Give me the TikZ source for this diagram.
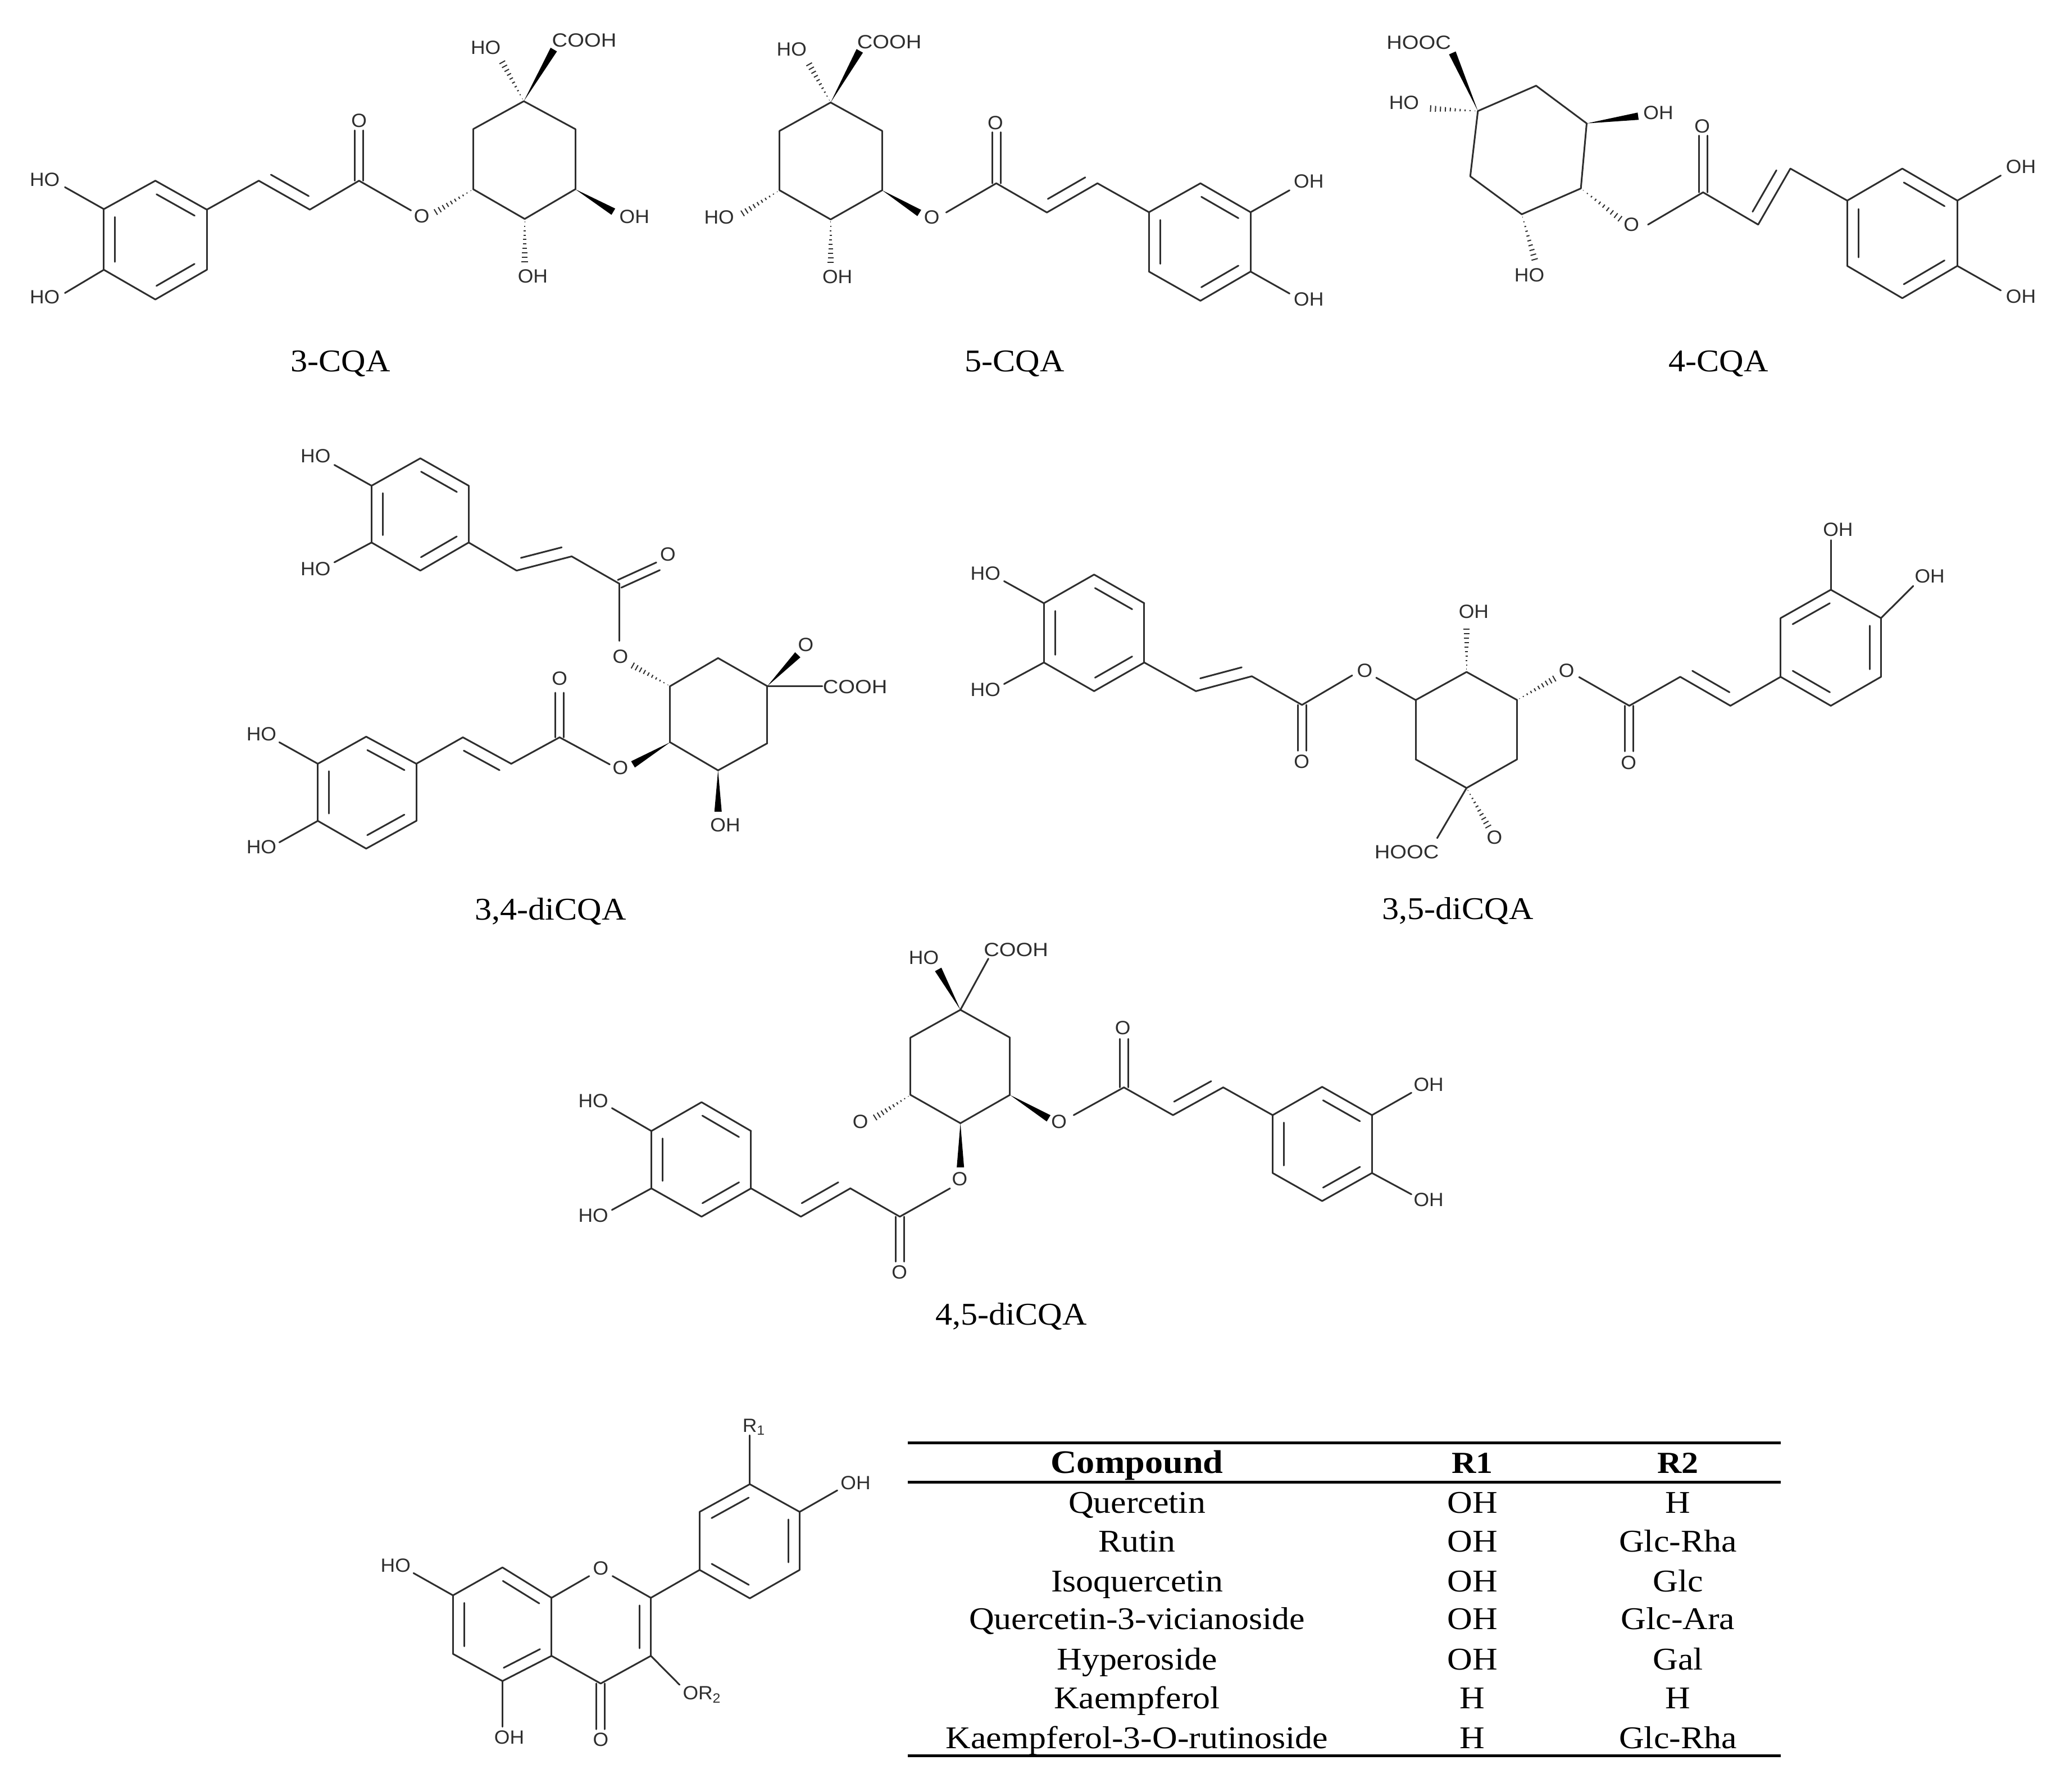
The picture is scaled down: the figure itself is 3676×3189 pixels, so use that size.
\documentclass[tikz,border=0pt]{standalone}
\usepackage{fontspec}
\usetikzlibrary{calc}
\setmainfont{Liberation Serif}
\newfontfamily\atomf[FakeStretch=1.04]{Liberation Sans}
\newfontfamily\acidf[FakeStretch=1.12]{Liberation Sans}
\newfontfamily\capf[FakeStretch=1.07]{Liberation Serif}
\newfontfamily\tabf[FakeStretch=1.1]{Liberation Serif}
\definecolor{ink}{gray}{0.18}
\tikzset{
  bond/.style={draw=ink,line width=0.03cm,line cap=round,line join=round},
  hashl/.style={draw=ink,line width=0.02cm},
  solidw/.style={fill=black,draw=none},
  atomlbl/.style={font=\atomf\fontsize{9.7}{10}\selectfont,inner sep=0pt,text=ink},
  captn/.style={font=\capf\fontsize{16}{18}\selectfont,inner sep=0pt,anchor=base,text=black},
  cell/.style={font=\tabf\fontsize{16}{18}\selectfont,inner sep=0pt,anchor=base,text=black},
  head/.style={font=\tabf\bfseries\fontsize{15.5}{18}\selectfont,inner sep=0pt,anchor=base,text=black},
  headw/.style={font=\tabf\bfseries\fontsize{16.6}{18}\selectfont,inner sep=0pt,anchor=base,text=black},
  rulel/.style={draw=black,line width=0.05cm}
}
\newcommand\dg{0.2cm}
\newcommand\dc{0.075cm}
\newcommand\ww{0.065cm}
\newcommand\hw{0.06cm}
\newcommand\At[1]{\foreach \nm/\xx/\yy in {#1}{\coordinate (\nm) at (\xx,\yy);}}
\newcommand\Lb[1]{\foreach \nm/\xx/\yy/\tx in {#1}{\node[atomlbl] (\nm) at (\xx,\yy) {\tx};}}
\newcommand\SB[1]{\foreach \pa/\pb in {#1}{\draw[bond] (\pa)--(\pb);}}
\newcommand\DR[2]{\draw[bond] (#1)--(#2); \draw[bond] ($(#1)!.13!(#2)!\dg!-90:(#2)$) -- ($(#1)!.87!(#2)!\dg!-90:(#2)$);}
\newcommand\DL[2]{\draw[bond] (#1)--(#2); \draw[bond] ($(#1)!.13!(#2)!\dg!90:(#2)$) -- ($(#1)!.87!(#2)!\dg!90:(#2)$);}
\newcommand\DC[2]{\draw[bond] ($(#1)!\dc!90:(#2)$) -- ($(#2)!\dc!-90:(#1)$); \draw[bond] ($(#1)!\dc!-90:(#2)$) -- ($(#2)!\dc!90:(#1)$);}
\newcommand\Wg[2]{\fill[solidw] (#1) -- ($(#2)!\ww!90:(#1)$) -- ($(#2)!\ww!-90:(#1)$) -- cycle;}
\newcommand\Hs[2]{\foreach \hf in {0.06,0.16,...,1.0}{\draw[hashl] ($(#1)!\hf!(#2)!\hf*\hw!90:(#2)$) -- ($(#1)!\hf!(#2)!\hf*\hw!-90:(#2)$);}}
\begin{document}
\begin{tikzpicture}[x=0.01cm,y=-0.01cm]
\useasboundingbox[fill=white] (0,0) rectangle (3676,3189);

% ---------- 3-CQA
\begin{scope}[shift={(0,0)},x=0.0079719cm,y=-0.0045914cm,name prefix=ma-]
\At{r1/232/810,r2/347/700,r3/462/812,r4/462/1045,r5/347/1160,r6/232/1045,
 c1/578/700,c2/692/812,c3/802/700,eo/802/505,ea/918/815,eb/970/825,
 q1/1170/392,q2/1285/500,q3/1285/733,q4/1172/848,q5/1057/733,q6/1057/500,
 e1/1370/820,e2/1172/1022,e3/1120/235,e4/1237/192,e5/145/725,e6/145/1135}
\Lb{l1/100/695/HO,l2/100/1150/HO,l3/802/467/O,l4/942/838/O,l5/1417/840/OH,l6/1190/1070/OH,l7/1085/185/HO,l8/1305/157/{\acidf COOH}}
\SB{r1/r2,r3/r4,r5/r6,r3/c1,c2/c3,c3/ea,q1/q2,q2/q3,q3/q4,q4/q5,q5/q6,q6/q1,r1/e5,r6/e6}
\DR{r2}{r3}\DR{r6}{r1}\DR{r4}{r5}\DL{c1}{c2}\DC{c3}{eo}
\Hs{q5}{eb}\Wg{q3}{e1}\Hs{q4}{e2}\Hs{q1}{e3}\Wg{q1}{e4}
\end{scope}
\node[captn] (capa) at (606,661) {3-CQA};

% ---------- 5-CQA
\begin{scope}[shift={(1230,0)},x=0.0079719cm,y=-0.0045914cm,name prefix=mb-]
\At{q1/312/397,q2/427/507,q3/427/737,q4/312/850,q5/198/737,q6/198/507,
 e1/510/825,ea/570/823,c3/682/710,eo/682/512,c2/795/823,c1/908/710,
 r1/1023/822,r2/1138/710,r3/1250/822,r4/1250/1052,r5/1138/1165,r6/1023/1052,
 e5/1337/737,e6/1337/1137,e2/112/830,e3/312/1022,e4/262/243,e7/377/197}
\Lb{l1/538/842/O,l2/680/475/O,l3/1380/702/OH,l4/1380/1160/OH,l5/63/842/HO,l6/327/1072/OH,l7/225/190/HO,l8/443/163/{\acidf COOH}}
\SB{q1/q2,q2/q3,q3/q4,q4/q5,q5/q6,q6/q1,ea/c3,c3/c2,c1/r1,r1/r2,r3/r4,r5/r6,r3/e5,r4/e6}
\DR{r2}{r3}\DR{r6}{r1}\DR{r4}{r5}\DL{c2}{c1}\DC{c3}{eo}
\Wg{q3}{e1}\Hs{q5}{e2}\Hs{q4}{e3}\Hs{q1}{e4}\Wg{q1}{e7}
\end{scope}
\node[captn] (capb) at (1806,661) {5-CQA};

% ---------- 4-CQA
\begin{scope}[shift={(2426,0)},x=0.0079719cm,y=-0.0045914cm,name prefix=mc-]
\At{q1/257/430,q2/387/332,q3/500/478,q4/487/730,q5/355/830,q6/240/683,
 e1/200/205,e2/147/420,e3/615/450,e4/578/852,ea/637/870,c3/760/745,eo/760/525,
 c2/883/870,c1/955/653,r1/1082/777,r2/1205/653,r3/1328/777,r4/1328/1030,r5/1205/1155,r6/1082/1030,
 e5/1425/680,e6/1425/1125,e7/385/1012}
\Lb{l1/125/165/{\acidf HOOC},l2/92/398/HO,l3/660/437/OH,l4/600/870/O,l5/758/488/O,l6/1470/645/OH,l7/1470/1148/OH,l8/372/1065/HO}
\SB{q1/q2,q2/q3,q3/q4,q4/q5,q5/q6,q6/q1,ea/c3,c3/c2,c1/r1,r1/r2,r3/r4,r5/r6,r3/e5,r4/e6}
\DR{r2}{r3}\DR{r6}{r1}\DR{r4}{r5}\DL{c2}{c1}\DC{c3}{eo}
\Wg{q1}{e1}\Hs{q1}{e2}\Wg{q3}{e3}\Hs{q4}{e4}\Hs{q5}{e7}
\end{scope}
\node[captn] (capc) at (3059,661) {4-CQA};

% ---------- 3,4-diCQA
\begin{scope}[shift={(400,760)},x=0.0079719cm,y=-0.005869cm,name prefix=md-]
\At{a1/328/178,a2/437/95,a3/545/178,a4/545/350,a5/437/435,a6/328/350,
 e1/245/115,e2/245/410,c1/652/435,c2/775/392,c3/882/475,eo/968/422,ea/882/648,eb/908/720,
 q1/995/785,q2/1102/700,q3/1212/785,q4/1212/958,q5/1102/1040,q6/995/955,
 e3/1280/690,e4/1335/785,e5/1102/1165,e6/912/1022,
 ec/860/1022,d3/748/940,ep/748/805,d2/640/1020,d1/532/940,
 s1/428/1020,s2/316/938,s3/208/1020,s4/208/1193,s5/316/1277,s6/428/1193,e7/122/955,e8/122/1258}
\Lb{l1/203/88/HO,l2/203/430/HO,l3/990/385/O,l4/884/695/O,l5/1298/660/O,l6/1408/787/{\acidf COOH},l7/1118/1205/OH,l8/884/1032/O,l9/748/762/O,l10/82/930/HO,l11/82/1272/HO}
\SB{a1/a2,a3/a4,a5/a6,a1/e1,a6/e2,a4/c1,c2/c3,c3/ea,q1/q2,q2/q3,q3/q4,q4/q5,q5/q6,q6/q1,q3/e4,ec/d3,d3/d2,d1/s1,s1/s6,s5/s4,s3/s2,s3/e7,s4/e8}
\DR{a2}{a3}\DR{a6}{a1}\DR{a4}{a5}\DL{c1}{c2}\DC{c3}{eo}
\Hs{q1}{eb}\Wg{q3}{e3}\Wg{q5}{e5}\Wg{q6}{e6}\DC{d3}{ep}\DR{d1}{d2}
\DR{s2}{s1}\DR{s4}{s3}\DR{s6}{s5}
\end{scope}
\node[captn] (capd) at (980,1637) {3,4-diCQA};

% ---------- 3,5-diCQA
\begin{scope}[shift={(1700,880)},x=0.0063776cm,y=-0.005102cm,name prefix=me-]
\At{a1/248/380,a2/388/280,a3/528/380,a4/528/587,a5/388/687,a6/248/587,e1/137/303,e2/137/662,
 c1/672/687,c2/828/635,c3/968/735,eo/968/895,ea/1108/632,eb/1175/640,
 q1/1285/718,q2/1427/620,q3/1568/718,q4/1568/925,q5/1427/1025,q6/1285/925,
 e3/1427/465,e4/1490/1165,e5/1345/1200,e6/1676/640,ec/1741/638,d3/1881/738,ep/1881/897,d2/2023/637,d1/2163/738,
 s1/2303/637,s2/2303/432,s3/2443/333,s4/2583/432,s5/2583/637,s6/2443/738,e7/2443/160,e8/2673/320}
\Lb{l1/85/275/HO,l2/85/682/HO,l3/967/932/O,l4/1143/615/O,l5/1447/410/OH,l6/1505/1197/O,l7/1260/1248/{\acidf HOOC},l8/1706/615/O,l9/1879/937/O,l10/2463/123/OH,l11/2719/285/OH}
\SB{a1/a2,a3/a4,a5/a6,a1/e1,a6/e2,a4/c1,c2/c3,c3/ea,eb/q1,q1/q2,q2/q3,q3/q4,q4/q5,q5/q6,q6/q1,q5/e5,ec/d3,d3/d2,d1/s1,s1/s2,s3/s4,s5/s6,s3/e7,s4/e8}
\DR{a2}{a3}\DR{a6}{a1}\DR{a4}{a5}\DL{c1}{c2}\DC{c3}{eo}\DC{d3}{ep}\DL{d2}{d1}
\Hs{q2}{e3}\Hs{q5}{e4}\Hs{q3}{e6}
\DR{s2}{s3}\DR{s4}{s5}\DR{s6}{s1}
\end{scope}
\node[captn] (cape) at (2595,1636) {3,5-diCQA};

% ---------- 4,5-diCQA
\begin{scope}[shift={(1000,1660)},x=0.0063776cm,y=-0.0047847cm,name prefix=mf-]
\At{a1/250/737,a2/390/630,a3/528/737,a4/528/950,a5/390/1055,a6/250/950,e1/140/652,e2/140/1030,
 c1/667/1055,c2/805/950,c3/943/1055,eo/943/1222,ea/1083/950,
 q1/1112/287,q2/1250/390,q3/1250/603,q4/1112/708,q5/973/603,q6/973/390,
 e3/1112/872,e4/870/690,e5/1050/137,e6/1190/97,e7/1358/690,ec/1428/678,d3/1568/575,ep/1568/395,d2/1705/678,d1/1845/575,
 s1/1983/678,s2/2121/573,s3/2260/678,s4/2260/893,s5/2121/997,s6/1983/893,e8/2370/595,e9/2370/972}
\Lb{l1/88/625/HO,l2/88/1050/HO,l3/942/1262/O,l4/1110/915/O,l5/833/702/O,l6/1010/93/HO,l7/1267/65/{\acidf COOH},l8/1387/702/O,l9/1565/355/O,l10/2418/565/OH,l11/2418/992/OH}
\SB{a1/a2,a3/a4,a5/a6,a1/e1,a6/e2,a4/c1,c2/c3,c3/ea,q1/q2,q2/q3,q3/q4,q4/q5,q5/q6,q6/q1,q1/e6,ec/d3,d3/d2,d1/s1,s1/s2,s3/s4,s5/s6,s3/e8,s4/e9}
\DR{a2}{a3}\DR{a6}{a1}\DR{a4}{a5}\DL{c1}{c2}\DC{c3}{eo}\DC{d3}{ep}\DL{d2}{d1}
\Wg{q4}{e3}\Hs{q5}{e4}\Wg{q1}{e5}\Wg{q3}{e7}
\DR{s2}{s3}\DR{s6}{s1}\DR{s4}{s5}
\end{scope}
\node[captn] (capf) at (1800,2358) {4,5-diCQA};

% ---------- flavonol
\begin{scope}[shift={(650,2500)},x=0.0063776cm,y=-0.0043937cm,name prefix=mg-]
\At{a1/245/773,a2/383/660,a3/520/783,a4/520/1018,a5/383/1120,a6/245/1010,
 ea/625/695,eb/690/695,c2/797/783,c3/797/1018,c4/657/1130,eo/657/1315,e1/383/1305,e2/135/683,e3/877/1135,
 b1/933/670,b2/933/435,b3/1073/323,b4/1212/435,b5/1212/670,b6/1073/785,e4/1073/125,e5/1317/348}
\Lb{l1/85/652/HO,l2/657/663/O,l3/657/1358/O,l4/402/1348/OH,l5/940/1175/OR\textsubscript{2},l6/1085/92/R\textsubscript{1},l7/1368/317/OH}
\SB{a1/a2,a3/a4,a5/a6,a3/ea,eb/c2,c3/c4,c4/a4,a5/e1,a1/e2,c3/e3,c2/b1,b1/b2,b3/b4,b5/b6,b3/e4,b4/e5}
\DR{a2}{a3}\DR{a4}{a5}\DR{a6}{a1}\DR{c2}{c3}\DC{c4}{eo}
\DR{b2}{b3}\DR{b4}{b5}\DR{b6}{b1}
\end{scope}

% ---------- table
\coordinate (tl1) at (1616,2568); \coordinate (tr1) at (3170,2568);
\coordinate (tl2) at (1616,2638); \coordinate (tr2) at (3170,2638);
\coordinate (tl3) at (1616,3125); \coordinate (tr3) at (3170,3125);
\draw[rulel] (tl1)--(tr1); \draw[rulel] (tl2)--(tr2); \draw[rulel] (tl3)--(tr3);
\node[headw] (h1) at (2024,2622) {Compound};
\node[head] (h2) at (2621,2622) {R1};
\node[head] (h3) at (2987,2622) {R2};
\foreach \rw/\yy/\ca/\cb/\cc in {
 1/2693/Quercetin/OH/H,
 2/2762/Rutin/OH/Glc-Rha,
 3/2833/Isoquercetin/OH/Glc,
 4/2900/Quercetin-3-vicianoside/OH/Glc-Ara,
 5/2972/Hyperoside/OH/Gal,
 6/3041/Kaempferol/H/H,
 7/3112/Kaempferol-3-O-rutinoside/H/Glc-Rha}{
 \node[cell] (ra\rw) at (2024,\yy) {\ca};
 \node[cell] (rb\rw) at (2621,\yy) {\cb};
 \node[cell] (rc\rw) at (2987,\yy) {\cc};
}
\end{tikzpicture}
\end{document}
